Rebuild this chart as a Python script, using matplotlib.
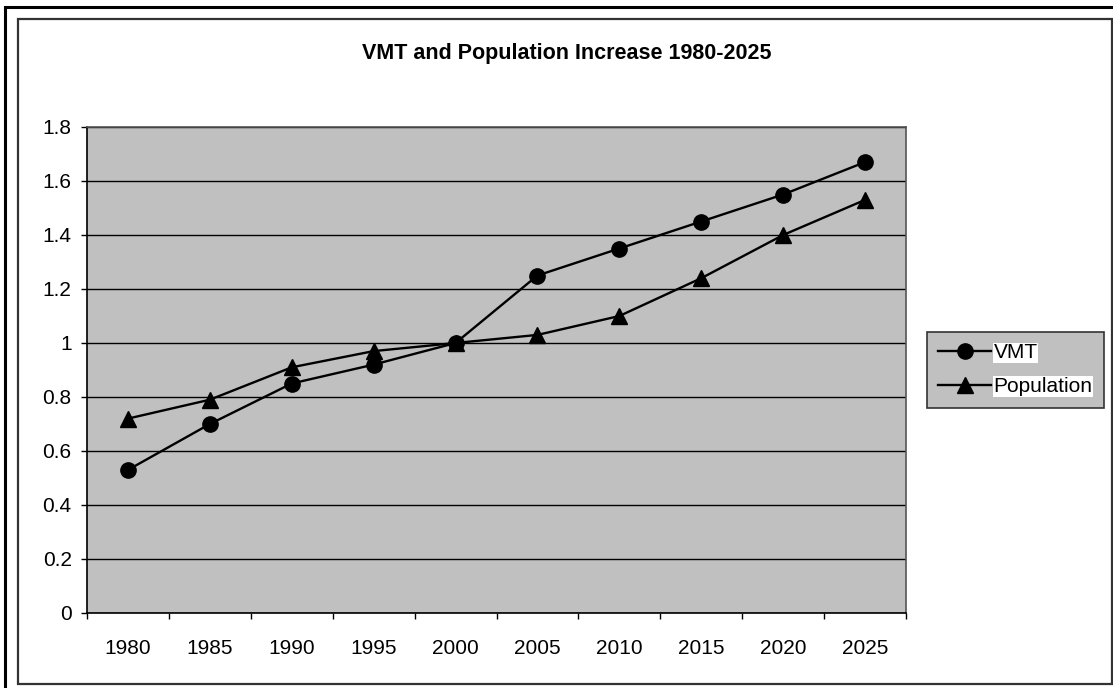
import matplotlib
matplotlib.use("Agg")
import matplotlib.pyplot as plt
from matplotlib.patches import Rectangle
from matplotlib.ticker import FixedLocator, FormatStrFormatter

plt.rcParams["font.family"] = ["Liberation Sans", "DejaVu Sans"]
plt.rcParams.update({'font.size': 15})

years = ['1980', '1985', '1990', '1995', '2000', '2005', '2010', '2015', '2020', '2025']
vmt = [0.53, 0.70, 0.85, 0.92, 1.00, 1.25, 1.35, 1.45, 1.55, 1.67]
population = [0.72, 0.79, 0.91, 0.97, 1.00, 1.03, 1.10, 1.24, 1.40, 1.53]
yticks = [0, 0.2, 0.4, 0.6, 0.8, 1.0, 1.2, 1.4, 1.6, 1.8]

fig = plt.figure(figsize=(11.13, 6.88), dpi=100)

# outer page frame (top/left edge) and chart area border
fig.add_artist(Rectangle((5/1113, -0.1), 1.2, 1 - 7/688 + 0.1, transform=fig.transFigure,
                         fill=False, edgecolor='black', linewidth=2.2))
fig.add_artist(Rectangle((17.5/1113, 4/688), (1112 - 17.5)/1113, (684 - 19)/688,
                         transform=fig.transFigure, fill=False,
                         edgecolor='#333333', linewidth=1.6))

ax = fig.add_axes([87/1113, 75/688, (906 - 87)/1113, (613 - 127)/688])
ax.set_facecolor('#C0C0C0')

x = list(range(len(years)))
ax.plot(x, vmt, color='black', linewidth=1.7, marker='o', markersize=11, label='VMT')
ax.plot(x, population, color='black', linewidth=1.7, marker='^', markersize=11.5, label='Population')

ax.set_xlim(-0.5, len(years) - 0.5)
ax.set_ylim(0, 1.8)

# years sit between the tick marks
ax.set_xticks(x)
ax.set_xticklabels(years)
ax.xaxis.set_minor_locator(FixedLocator([i - 0.5 for i in range(len(years) + 1)]))
ax.tick_params(axis='x', which='major', length=0, pad=19, labelsize=15)
ax.tick_params(axis='x', which='minor', length=4, width=1, direction='out')

ax.set_yticks(yticks)
ax.yaxis.set_major_formatter(FormatStrFormatter('%g'))
ax.tick_params(axis='y', length=4, width=1, direction='out', pad=7, labelsize=15)

ax.grid(axis='y', color='black', linewidth=1)
ax.set_axisbelow(True)

for s in ['top', 'right']:
    ax.spines[s].set_color('#555555')
    ax.spines[s].set_linewidth(1.2)
for s in ['left', 'bottom']:
    ax.spines[s].set_color('black')
    ax.spines[s].set_linewidth(1.2)

fig.text(567/1113, 1 - 53/688, 'VMT and Population Increase 1980-2025',
         ha='center', va='center', fontsize=15.5, fontweight='bold')

leg = fig.legend(loc='upper left', bbox_to_anchor=(927/1113, 1 - 332/688),
                 borderaxespad=0, fancybox=False, frameon=True, fontsize=15,
                 handlelength=2.5, handletextpad=0.15, labelspacing=0.7,
                 borderpad=0.55)
leg.get_frame().set_facecolor('#C0C0C0')
leg.get_frame().set_edgecolor('#333333')
leg.get_frame().set_linewidth(1.2)
leg.get_frame().set_alpha(1)
for t in leg.get_texts():
    t.set_bbox(dict(facecolor='white', edgecolor='none', pad=0.5))

fig.savefig('out.png', dpi=100)
